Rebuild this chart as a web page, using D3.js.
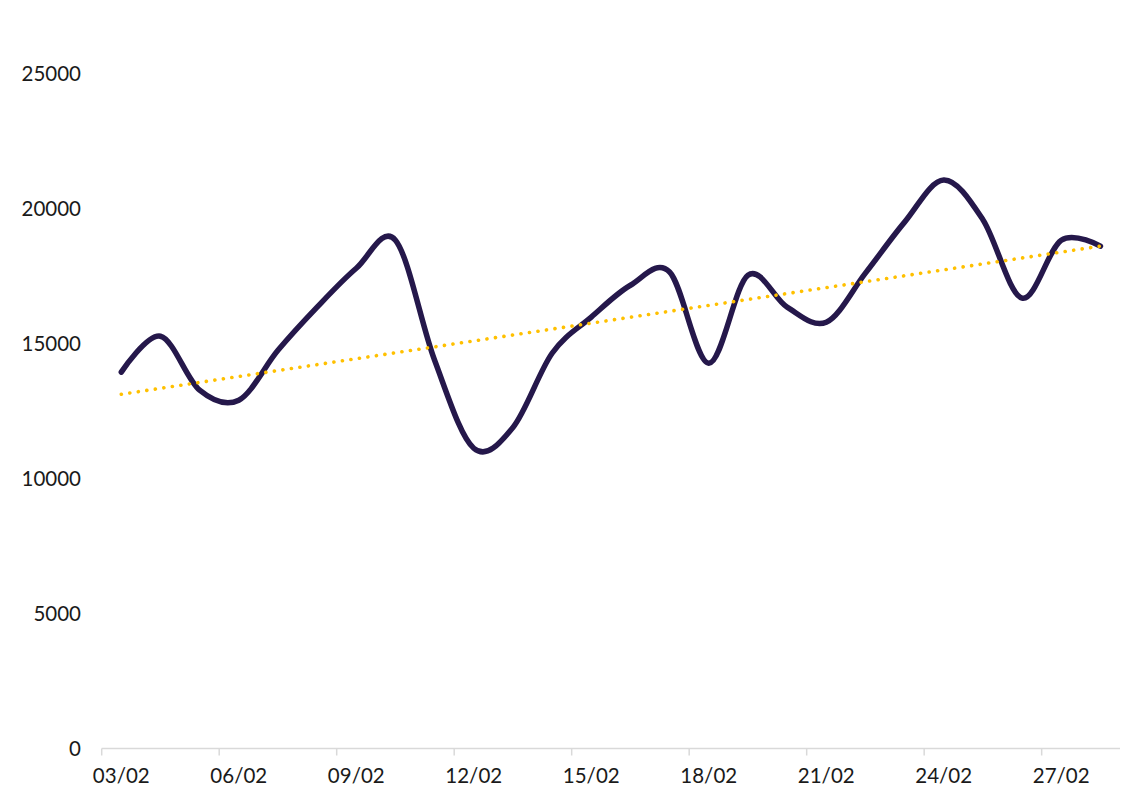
<!DOCTYPE html>
<html>
<head>
<meta charset="utf-8">
<script src="https://cdn.jsdelivr.net/npm/d3@7"></script>
<style>
  body { margin: 0; background: #fff; }
  text { font-family: Lato, "Open Sans", sans-serif; fill: #1a1a1a; }
</style>
</head>
<body>
<div id="chart"></div>
<script>
// days shown on the axis (03/02 .. 28/02)
var days = ["03/02","04/02","05/02","06/02","07/02","08/02","09/02","10/02","11/02",
            "12/02","13/02","14/02","15/02","16/02","17/02","18/02","19/02","20/02",
            "21/02","22/02","23/02","24/02","25/02","26/02","27/02","28/02"];

// daily values
var values = [13950, 15280, 13280, 12910, 14760, 16360, 17800, 18840, 14390,
              11130, 11900, 14650, 15990, 17170, 17660, 14280, 17540, 16360,
              15800, 17620, 19510, 21070, 19600, 16690, 18840, 18620];

// trend line at first and last day
var trendDays = ["03/02", "28/02"];
var trendValues = [13130, 18620];

var yTicks = [0, 5000, 10000, 15000, 20000, 25000];

(function() {
"use strict";

var w = 1127, h = 786;
var mLeft = 101.7, mRight = 1120, mTop = 74, mBottom = 748.5;

var svg = d3.select("#chart").append("svg")
  .attr("width", w)
  .attr("height", h);

var x = d3.scaleBand()
  .domain(days)
  .range([mLeft, mRight]);

var y = d3.scaleLinear()
  .domain([0, 25000])
  .range([mBottom, mTop]);

var cx = function(d) { return x(d) + x.bandwidth() / 2; };

// y labels (no axis line, no gridlines)
svg.selectAll(".ylab")
  .data(yTicks)
  .enter()
  .append("text")
  .attr("class", "ylab")
  .attr("x", 81)
  .attr("y", function(d) { return y(d); })
  .attr("dy", "0.36em")
  .attr("text-anchor", "end")
  .style("font-size", "20.5px")
  .text(function(d) { return d; });

// x axis: line, ticks every 3 days between categories
svg.append("line")
  .attr("x1", mLeft).attr("x2", mRight)
  .attr("y1", mBottom).attr("y2", mBottom)
  .style("stroke", "#d9d9d9").style("stroke-width", 1.5);

var tickDays = days.filter(function(d, i) { return i % 3 == 0; });

svg.selectAll(".xtick")
  .data(tickDays)
  .enter()
  .append("line")
  .attr("x1", function(d) { return x(d); })
  .attr("x2", function(d) { return x(d); })
  .attr("y1", mBottom).attr("y2", mBottom + 7)
  .style("stroke", "#d9d9d9").style("stroke-width", 1.5);

svg.selectAll(".xlab")
  .data(tickDays)
  .enter()
  .append("text")
  .attr("class", "xlab")
  .attr("x", cx)
  .attr("y", 776)
  .attr("dy", "0.36em")
  .attr("text-anchor", "middle")
  .style("font-size", "20.5px")
  .text(function(d) { return d; });

// smoothed line (excel style smoothing ~ uniform catmull-rom)
var line = d3.line()
  .x(function(d, i) { return cx(days[i]); })
  .y(function(d) { return y(d); })
  .curve(d3.curveCardinal.tension(0));

svg.append("path")
  .datum(values)
  .attr("d", line)
  .style("fill", "none")
  .style("stroke", "#25184b")
  .style("stroke-width", 5.5)
  .style("stroke-linecap", "round")
  .style("stroke-linejoin", "round");

// dotted trend line
svg.append("path")
  .datum(trendValues)
  .attr("d", d3.line()
    .x(function(d, i) { return cx(trendDays[i]); })
    .y(function(d) { return y(d); }))
  .style("fill", "none")
  .style("stroke", "#ffc000")
  .style("stroke-width", 3.6)
  .style("stroke-linecap", "round")
  .style("stroke-dasharray", "0.1 8.5");

})();
</script>
</body>
</html>
